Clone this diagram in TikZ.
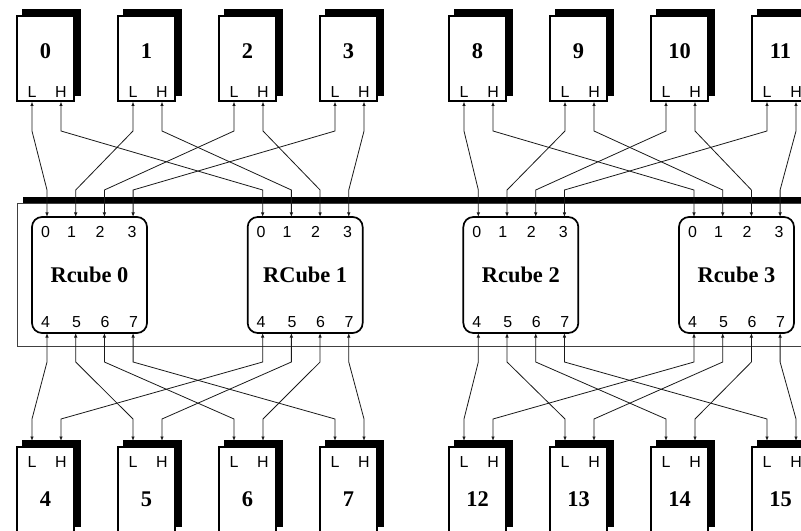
\documentclass[tikz,border=0pt]{standalone}
\usepackage{fontspec}
\setmainfont{Liberation Serif}
\setsansfont{Liberation Sans}
\usetikzlibrary{arrows.meta,shadows}
\begin{document}
\begin{tikzpicture}[x=1bp,y=-1bp,
  wire/.style={draw=black!90, line width=0.8bp,
    {Latex[length=4.5bp,width=3.5bp]}-{Latex[length=4.5bp,width=3.5bp]}},
  cpu/.style={draw=black, line width=1.1bp, fill=white, minimum width=57bp,
    minimum height=85bp, inner sep=0pt,
    copy shadow={shadow xshift=6bp, shadow yshift=6bp, fill=black, draw=black}},
  rcube/.style={draw=black, line width=1.7bp, rounded corners=10bp, fill=white,
    minimum width=115bp, minimum height=116bp, inner sep=0pt,
    font=\fontsize{22.5}{24}\selectfont\bfseries},
  num/.style={font=\fontsize{22.5}{24}\selectfont\bfseries, inner sep=0pt},
  lbl/.style={font=\sffamily\fontsize{16}{17}\selectfont, inner sep=0pt},
]
\useasboundingbox (0,0) rectangle (801,531);
% frame and bus
\draw[black!75, line width=0.8bp] (17,203) rectangle (812,346.5);
\fill[black] (23,197) rectangle (812,203);
% bend levels
\coordinate (tbA) at (0,131);
\coordinate (tbB) at (0,190);
\coordinate (bbA) at (0,362);
\coordinate (bbB) at (0,419);
% top boxes
\foreach \n/\l in {0/17,1/118,2/219,3/320,8/449,9/550,10/651,11/752}{
  \node[cpu] (tb\n) at (\l+28.5, 58.5) {};
  \node[num] (tbn\n) at (\l+28.5, 51) {\n};
  \node[lbl] (tbl\n) at (\l+15, 92) {L};
  \node[lbl] (tbh\n) at (\l+44, 92) {H};
  \coordinate (tb\n L) at (\l+15, 101.5);
  \coordinate (tb\n H) at (\l+44, 101.5);
}
% bottom boxes
\foreach \n/\l in {4/17,5/118,6/219,7/320,12/449,13/550,14/651,15/752}{
  \node[cpu] (bb\n) at (\l+28.5, 489.5) {};
  \node[num] (bbn\n) at (\l+28.5, 499) {\n};
  \node[lbl] (bbl\n) at (\l+15, 462) {L};
  \node[lbl] (bbh\n) at (\l+44, 462) {H};
  \coordinate (bb\n L) at (\l+15, 441);
  \coordinate (bb\n H) at (\l+44, 441);
}
% Rcubes
\foreach \rn/\rl/\rt in {0/32/Rcube 0,1/247.67/RCube 1,2/463.33/Rcube 2,3/679/Rcube 3}{
  \node[rcube] (rc\rn) at (\rl+57.5, 275) {\rt};
  \foreach \i/\dx in {0/13.5,1/39.5,2/68,3/100}{
    \node[lbl] (rc\rn t\i) at (\rl+\dx, 232) {\i};
  }
  \foreach \i/\dx in {4/13.5,5/44.5,6/73,7/101.5}{
    \node[lbl] (rc\rn t\i) at (\rl+\dx, 322) {\i};
  }
  \foreach \i in {0,...,3}{
    \pgfmathtruncatemacro{\j}{\i+4}
    \coordinate (r\rn p\i) at (\rl+15+28.7*\i, 217);
    \coordinate (r\rn p\j) at (\rl+15+28.7*\i, 333);
  }
}
% wires
\foreach \i in {0,...,3}{
  \pgfmathtruncatemacro{\nA}{\i}
  \pgfmathtruncatemacro{\nB}{8+\i}
  \pgfmathtruncatemacro{\nC}{4+\i}
  \pgfmathtruncatemacro{\nD}{12+\i}
  \pgfmathtruncatemacro{\pb}{4+\i}
  % top, left group
  \draw[wire] (tb\nA L) -- (tb\nA L |- tbA) -- (r0p\i |- tbB) -- (r0p\i);
  \draw[wire] (tb\nA H) -- (tb\nA H |- tbA) -- (r1p\i |- tbB) -- (r1p\i);
  % top, right group
  \draw[wire] (tb\nB L) -- (tb\nB L |- tbA) -- (r2p\i |- tbB) -- (r2p\i);
  \draw[wire] (tb\nB H) -- (tb\nB H |- tbA) -- (r3p\i |- tbB) -- (r3p\i);
  % bottom, left group
  \draw[wire] (r0p\pb) -- (r0p\pb |- bbA) -- (bb\nC L |- bbB) -- (bb\nC L);
  \draw[wire] (r1p\pb) -- (r1p\pb |- bbA) -- (bb\nC H |- bbB) -- (bb\nC H);
  % bottom, right group
  \draw[wire] (r2p\pb) -- (r2p\pb |- bbA) -- (bb\nD L |- bbB) -- (bb\nD L);
  \draw[wire] (r3p\pb) -- (r3p\pb |- bbA) -- (bb\nD H |- bbB) -- (bb\nD H);
}
\end{tikzpicture}
\end{document}
